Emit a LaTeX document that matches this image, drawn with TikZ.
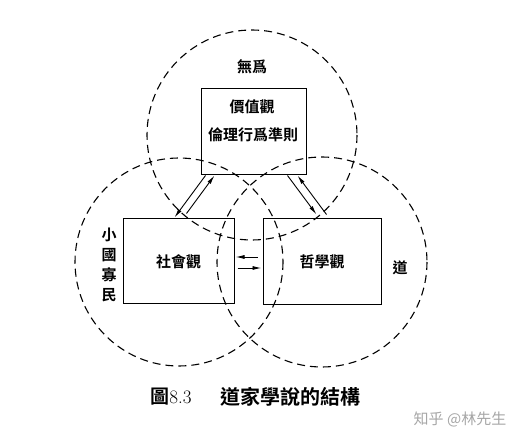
\documentclass[tikz,border=0pt]{standalone}
\usepackage{fontspec}
\newfontfamily\cjk{Noto Sans CJK TC}[BoldFont={Noto Sans CJK TC Bold}]
\usetikzlibrary{arrows.meta}
\tikzset{
  circulo/.style={line width=1.1pt, dash pattern=on 8pt off 5pt},
  caja/.style={draw, line width=1pt, inner sep=0pt},
  flecha/.style={line width=0.9pt, -{Latex[length=9pt,width=4pt]}},
  texto/.style={font=\cjk\bfseries\fontsize{15}{20}\selectfont}
}
\begin{document}
\begin{tikzpicture}[x=1pt,y=-1pt]
        \useasboundingbox (0,0) rectangle (523,441);
        % Círculos grandes
        \draw[circulo] (252,135) circle(105);
        \draw[circulo] (179,262) circle(104);
        \draw[circulo] (322,262) circle(105);
        % Cajas
        \node[caja, minimum width=105pt, minimum height=86pt] (val) at (253.5,132) {};
        \node[texto] (valtit) at (252,107) {價值觀};
        \node[texto] (valsub) at (253,135) {倫理行爲準則};
        \node[caja, texto, minimum width=111pt, minimum height=85pt] (soc) at (178.5,261.5) {社會觀};
        \node[caja, texto, minimum width=118pt, minimum height=86pt] (fil) at (322,262) {哲學觀};
        % Etiquetas
        \node[texto] (wuwei) at (252,67) {無爲};
        \node[texto, align=center] (xiao) at (109,265) {小\\國\\寡\\民};
        \node[texto] (dao) at (400,268) {道};
        % Flechas
        \draw[flecha] ([xshift=5pt]val.south west) -- ([xshift=52pt,yshift=1pt]soc.north west);
        \draw[flecha] ([xshift=64pt,yshift=5pt]soc.north west) -- ([xshift=14pt]val.south west);
        \draw[flecha] ([xshift=-19pt]val.south east) -- ([xshift=54pt,yshift=4pt]fil.north west);
        \draw[flecha] ([xshift=64pt,yshift=4pt]fil.north west) -- ([xshift=-9pt]val.south east);
        \draw[flecha] ([xshift=-5pt,yshift=5pt]fil.west) -- ([xshift=1pt,yshift=4.5pt]soc.east);
        \draw[flecha] ([xshift=3pt,yshift=-6.5pt]soc.east) -- ([xshift=-1pt,yshift=-6pt]fil.west);
        % Pie
        \node[font=\fontsize{19}{22}\selectfont] (fig) at (171,397) {{\cjk\bfseries 圖}8.3};
        \node[font=\cjk\bfseries\fontsize{20}{22}\selectfont] (pie) at (290,397) {道家學說的結構};
        \node[font=\cjk\fontsize{15}{20}\selectfont, text=black!35] (marca) at (460,419) {知乎 @林先生};
\end{tikzpicture}
\end{document}
